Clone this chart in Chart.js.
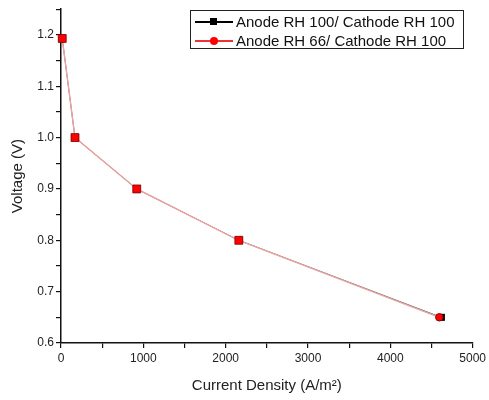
<!DOCTYPE html>
<html>
<head>
<meta charset="utf-8">
<script src="https://cdn.jsdelivr.net/npm/chart.js@4.4.0/dist/chart.umd.min.js"></script>
<style>
  html, body { margin: 0; padding: 0; background: #fff; }
  #wrap { position: relative; width: 489px; height: 400px; }
  #legend {
    position: absolute; left: 190px; top: 10px; width: 272px; height: 37px;
    border: 1.5px solid #222; background: #fff;
    font-family: "Liberation Sans", Arial, sans-serif; font-size: 15px; color: #111;
  }
  .row { position: absolute; left: 0; height: 19px; line-height: 19px; white-space: nowrap; }
  .row .line { position: absolute; left: 4px; top: 9px; width: 38px; height: 1.5px; }
  .row .mk { position: absolute; }
  .row span { position: absolute; left: 45px; }
</style>
</head>
<body>
<div id="wrap">
  <canvas id="chart" width="489" height="400"></canvas>
  <div id="legend">
    <div class="row" style="top:1px">
      <div class="line" style="background:#000"></div>
      <div class="mk" style="left:19px;top:6px;width:7px;height:7px;background:#000"></div>
      <span>Anode RH 100/ Cathode RH 100</span>
    </div>
    <div class="row" style="top:20px">
      <div class="line" style="background:#e33"></div>
      <div class="mk" style="left:19px;top:6px;width:8px;height:8px;border-radius:50%;background:#f00"></div>
      <span>Anode RH 66/ Cathode RH 100</span>
    </div>
  </div>
</div>
<script>
const labels = ['Anode RH 100/ Cathode RH 100', 'Anode RH 66/ Cathode RH 100'];
const currentRH100 = [15, 170, 920, 2160, 4620];
const voltageRH100 = [1.193, 1.0, 0.9, 0.8, 0.65];
const currentRH66 = [15, 170, 920, 2160, 4595];
const voltageRH66 = [1.193, 1.0, 0.9, 0.8, 0.65];
const xTicks = [0, 500, 1000, 1500, 2000, 2500, 3000, 3500, 4000, 4500, 5000];
const yTicks = [0.6, 0.65, 0.7, 0.75, 0.8, 0.85, 0.9, 0.95, 1.0, 1.05, 1.1, 1.15, 1.2, 1.25];

const toPoints = (xs, ys) => xs.map((x, i) => ({ x: x, y: ys[i] }));
const font = { family: '"Liberation Sans", Arial, sans-serif' };

new Chart(document.getElementById('chart').getContext('2d'), {
    type: 'scatter',
    data: {
        datasets: [
            {
                label: labels[0],
                data: toPoints(currentRH100, voltageRH100),
                showLine: true,
                borderColor: '#000',
                borderWidth: 0.6,
                backgroundColor: '#000',
                pointStyle: 'rect',
                pointRadius: 5,
                pointBorderWidth: 0,
                clip: false,
                order: 2
            },
            {
                label: labels[1],
                data: toPoints(currentRH66, voltageRH66),
                showLine: true,
                borderColor: '#eaa2a2',
                borderWidth: 1.4,
                backgroundColor: '#f00',
                pointBackgroundColor: '#f00',
                pointBorderColor: '#700',
                pointBorderWidth: 0.8,
                pointStyle: ['rect', 'rect', 'rect', 'rect', 'circle'],
                pointRadius: [5.6, 5.6, 5.6, 5.6, 3.8],
                clip: false,
                order: 1
            }
        ]
    },
    options: {
        responsive: false,
        animation: false,
        layout: { padding: { top: 8, right: 16 } },
        plugins: { legend: { display: false }, tooltip: { enabled: false } },
        scales: {
            x: {
                type: 'linear',
                min: 0, max: 5000,
                afterBuildTicks: s => { s.ticks = xTicks.map(v => ({ value: v })); },
                afterFit: s => { s.height = 57; },
                border: { color: '#111', width: 1.5 },
                grid: { drawOnChartArea: false, tickLength: 5, color: '#111', lineWidth: 1.2 },
                ticks: {
                    color: '#222', padding: 3, maxRotation: 0, autoSkip: false,
                    font: Object.assign({ size: 12 }, font),
                    callback: v => (v % 1000 === 0 ? String(v) : '')
                },
                title: {
                    display: true, text: 'Current Density (A/m²)', color: '#222',
                    font: Object.assign({ size: 15 }, font),
                    padding: { top: 0, bottom: 5 }
                }
            },
            y: {
                type: 'linear',
                min: 0.6, max: 1.25,
                afterBuildTicks: s => { s.ticks = yTicks.map(v => ({ value: v })); },
                afterFit: s => { s.width = 61; },
                border: { color: '#111', width: 1.5 },
                grid: { drawOnChartArea: false, tickLength: 5, color: '#111', lineWidth: 1.2 },
                ticks: {
                    color: '#222', padding: 2, autoSkip: false,
                    font: Object.assign({ size: 12 }, font),
                    callback: v => (Math.round(v * 100) % 10 === 0 ? v.toFixed(1) : '')
                },
                title: {
                    display: true, text: 'Voltage (V)', color: '#222',
                    font: Object.assign({ size: 15 }, font),
                    padding: { top: 9, bottom: 0 }
                }
            }
        }
    }
});
</script>
</body>
</html>
